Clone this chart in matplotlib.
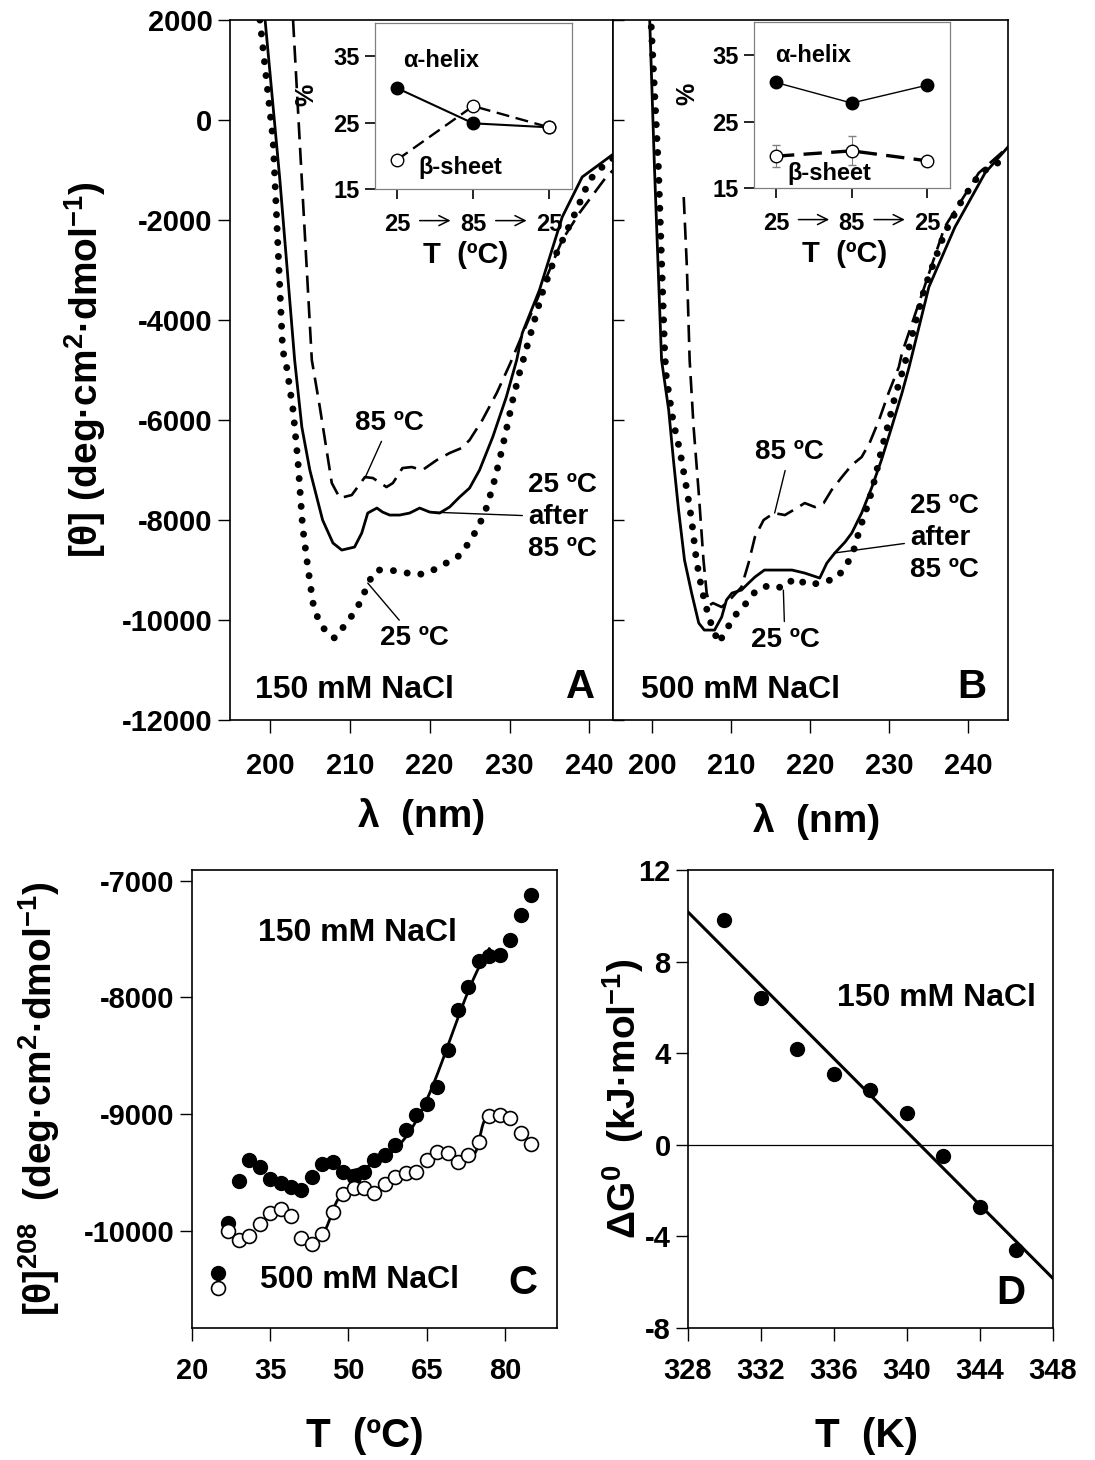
import matplotlib
matplotlib.use("Agg")
import matplotlib.pyplot as plt
import numpy as np

plt.rcParams['font.family'] = ['Liberation Sans', 'DejaVu Sans']
plt.rcParams['font.weight'] = 'bold'
plt.rcParams['axes.labelweight'] = 'bold'
plt.rcParams['axes.unicode_minus'] = False
plt.rcParams['mathtext.fontset'] = 'custom'
plt.rcParams['mathtext.rm'] = 'Liberation Sans:bold'
plt.rcParams['mathtext.bf'] = 'Liberation Sans:bold'
plt.rcParams['mathtext.it'] = 'Liberation Sans:bold'
plt.rcParams['mathtext.default'] = 'rm'

# ---- panel A : 150 mM NaCl CD spectra ----
a25_wl = [198.75, 200.4, 201.6, 202.1, 202.9, 203.5, 204.1, 204.75, 205.4, 206.0, 207.1, 208.1, 209.4,
          210.6, 211.6, 212.25, 213.4, 215.0, 216.6, 218.4, 220.0, 221.6, 223.5, 225.0, 226.0, 226.9,
          227.9, 228.75, 229.6, 230.4, 231.25, 234.1, 235.9, 238.4, 240.0, 242.1, 243.0]
a25_th = [2000, -400, -4600, -4940, -5800, -6800, -8140, -8940, -9660, -9960, -10260, -10360, -10100,
          -9840, -9560, -9260, -9000, -9000, -9040, -9100, -9040, -8900, -8740, -8440, -8160, -7860,
          -7340, -6800, -6200, -5600, -5060, -3460, -2660, -1800, -1200, -860, -760]
a85_wl = [202.9, 204.0, 205.25, 206.25, 207.75, 208.75, 210.25, 211.9, 212.9, 214.6, 215.4, 216.6,
          217.75, 219.1, 220.9, 222.5, 224.0, 225.0, 226.6, 228.4, 230.0, 236.6, 238.75, 242.1, 243.0]
a85_th = [2000, -1200, -4800, -5740, -7260, -7560, -7500, -7140, -7160, -7340, -7260, -6960,
          -6940, -7000, -6800, -6660, -6560, -6400, -6000, -5460, -4900, -2400, -1860, -1140, -1000]
aaft_wl = [199.4, 201.25, 203.1, 204.0, 205.0, 206.6, 207.9, 209.0, 210.6, 211.5, 212.25, 213.4, 214.1,
           215.0, 216.25, 217.5, 218.75, 220.0, 221.25, 222.5, 223.75, 225.0, 226.25, 227.9, 229.6,
           230.9, 231.6, 233.75, 236.6, 239.1, 242.5, 243.0]
aaft_th = [2000, -1200, -4800, -6140, -7000, -8000, -8460, -8600, -8540, -8260, -7860, -7760, -7840,
           -7900, -7900, -7860, -7760, -7840, -7860, -7740, -7540, -7360, -7000, -6340, -5540,
           -4800, -4260, -3400, -1940, -1140, -740, -680]

# ---- panel B : 500 mM NaCl CD spectra ----
b25_wl = [199.9, 200.8, 201.6, 201.8, 202.7, 203.5, 204.4, 205.0, 205.6, 206.3, 207.2, 208.4, 209.4,
          210.3, 211.7, 213.2, 214.9, 216.6, 218.0, 219.8, 221.7, 223.35, 224.6, 225.5, 226.3, 227.4,
          228.2, 229.0, 229.9, 230.7, 231.8, 234.5, 237.0, 239.2, 241.5, 245.0]
b25_th = [1860, -940, -4660, -5140, -6060, -6600, -7400, -8000, -8800, -9400, -9960, -10460, -10200,
          -9940, -9700, -9400, -9300, -9360, -9160, -9300, -9240, -9160, -8900, -8600, -8160, -7640,
          -7160, -6600, -6060, -5540, -4960, -3340, -2260, -1600, -1060, -740]
b85_wl = [204.0, 204.4, 204.75, 205.25, 205.9, 206.5, 206.9, 207.3, 207.7, 208.8, 209.8, 211.3, 212.2,
          213.0, 214.1, 215.4, 216.8, 218.3, 219.3, 220.6, 221.7, 222.7, 224.0, 225.25, 226.5, 227.5,
          228.7, 229.9, 231.2, 231.6, 237.0, 241.3, 245.0]
b85_th = [-1540, -2940, -4800, -6140, -7460, -8800, -9460, -9700, -9660, -9740, -9600, -9340, -8860,
          -8340, -8000, -7860, -7900, -7760, -7660, -7740, -7660, -7400, -7140, -6900, -6740, -6460,
          -6000, -5460, -4940, -4660, -2140, -1060, -540]
baft_wl = [199.7, 200.3, 201.2, 202.1, 202.7, 203.35, 204.1, 205.0, 205.9, 206.6, 207.9, 208.8, 209.4,
           210.1, 211.3, 212.2, 213.0, 214.2, 216.0, 217.7, 219.3, 221.2, 222.1, 223.1, 224.4, 225.25,
           226.5, 227.8, 229.0, 230.3, 231.6, 232.5, 235.0, 238.3, 242.1, 245.0]
baft_th = [2000, -940, -4800, -5800, -6800, -7800, -8800, -9460, -10060, -10200, -10200, -9940, -9600,
           -9460, -9400, -9260, -9140, -9000, -9000, -9000, -9060, -9160, -8860, -8660, -8440, -8260,
           -7860, -7340, -6800, -6140, -5460, -4940, -3340, -2140, -1060, -540]

# ---- insets: secondary structure (%) ----
inset_ticks = ['25', '85', '25']
helix_150 = [30.2, 24.9, 24.3]
sheet_150 = [19.4, 27.5, 24.3]
sheet_150_err = [0, 0, 0.6]
helix_500 = [30.9, 27.8, 30.5]
sheet_500 = [19.8, 20.6, 19.1]
sheet_500_err = [1.7, 2.2, 0]

# ---- panel C : [theta]208 vs temperature ----
T_c = list(range(25, 87, 2))
th208_150 = [-10362, -9932, -9570, -9393, -9450, -9556, -9590, -9621, -9650, -9538, -9427, -9408, -9493,
             -9538, -9496, -9393, -9350, -9265, -9137, -9009, -8915, -8770, -8453, -8111, -7915, -7692,
             -7650, -7641, -7513, -7299, -7128]
th208_500 = [-10490, -9997, -10077, -10043, -9940, -9846, -9812, -9872, -10057, -10111, -10026, -9835,
             -9684, -9632, -9632, -9675, -9598, -9536, -9507, -9493, -9393, -9322, -9336, -9408, -9350,
             -9236, -9017, -9003, -9032, -9165, -9256]
fit_ranges_150 = [(49, 77)]
fit_ranges_500 = [(41, 55), (69, 81)]

# ---- panel D : dG vs T ----
T_d = [330, 332, 334, 336, 338, 340, 342, 344, 346]
dG = [9.8, 6.4, 4.2, 3.1, 2.4, 1.4, -0.5, -2.7, -4.6]


def sigmoid_fit(t, y, n=200):
    t = np.asarray(t, float)
    y = np.asarray(y, float)
    best = None
    for m in np.linspace(t.min(), t.max(), 80):
        for w in np.linspace(0.3, 6, 50):
            s = 1 / (1 + np.exp(-(t - m) / w))
            A = np.column_stack([np.ones_like(t), s])
            coef = np.linalg.lstsq(A, y, rcond=None)[0]
            r = np.sum((A @ coef - y) ** 2)
            if best is None or r < best[0]:
                best = (r, m, w, coef)
    _, m, w, c = best
    tt = np.linspace(t.min(), t.max(), n)
    return tt, c[0] + c[1] / (1 + np.exp(-(tt - m) / w))


TICK = 21
LAB = 28
NOTE = 20
NACL = 23
LETTER = 29

dash = (0, (6.5, 3.2))
dots = (0, (0.01, 2.0))

fig = plt.figure(figsize=(10.95, 14.6), dpi=100)

axA = fig.add_axes([0.2100, 0.5068, 0.3494, 0.4795])
axB = fig.add_axes([0.5594, 0.5068, 0.3611, 0.4795])

for ax, xmax in ((axA, 242.9), (axB, 245)):
    ax.set_xlim(195, xmax)
    ax.set_ylim(-12000, 2000)
    ax.set_xticks([200, 210, 220, 230, 240])
    ax.tick_params(axis='both', labelsize=TICK, length=9, width=1, direction='out')
    ax.tick_params(axis='x', pad=14)
    for s in ax.spines.values():
        s.set_linewidth(1.2)

axA.set_yticks(np.arange(-12000, 2001, 2000))
axB.set_yticks(np.arange(-12000, 2001, 2000))
axB.tick_params(axis='y', direction='in', labelleft=False, length=8)

axA.plot(a25_wl, a25_th, color='black', lw=5, linestyle=dots, dash_capstyle='round')
axA.plot(a85_wl, a85_th, color='black', lw=1.9, linestyle=dash)
axA.plot(aaft_wl, aaft_th, color='black', lw=2.0)

axB.plot(b25_wl, b25_th, color='black', lw=5, linestyle=dots, dash_capstyle='round')
axB.plot(b85_wl, b85_th, color='black', lw=1.9, linestyle=dash)
axB.plot(baft_wl, baft_th, color='black', lw=2.0)

lead = dict(arrowstyle='-', lw=1, color='black', shrinkA=2, shrinkB=0)
axA.annotate('85 ºC', xy=(211.9, -7160), xytext=(215, -6060), fontsize=NOTE,
             ha='center', va='center', arrowprops=lead)
axA.annotate('25 ºC\nafter\n85 ºC', xy=(220, -7840), xytext=(232.3, -7940), fontsize=NOTE,
             ha='left', va='center', linespacing=1.3, arrowprops=lead)
axA.annotate('25 ºC', xy=(212.25, -9260), xytext=(218.1, -10360), fontsize=NOTE,
             ha='center', va='center', arrowprops=lead)
axB.annotate('85 ºC', xy=(215.5, -7860), xytext=(217.4, -6640), fontsize=NOTE,
             ha='center', va='center', arrowprops=lead)
axB.annotate('25 ºC\nafter\n85 ºC', xy=(223, -8660), xytext=(232.6, -8360), fontsize=NOTE,
             ha='left', va='center', linespacing=1.3, arrowprops=lead)
axB.annotate('25 ºC', xy=(216.6, -9400), xytext=(216.8, -10400), fontsize=NOTE,
             ha='center', va='center', arrowprops=lead)

axA.text(0.065, 0.043, '150 mM NaCl', transform=axA.transAxes, fontsize=NACL, va='center')
axA.text(0.955, 0.047, 'A', transform=axA.transAxes, fontsize=LETTER, ha='right', va='center')
axB.text(0.073, 0.043, '500 mM NaCl', transform=axB.transAxes, fontsize=NACL, va='center')
axB.text(0.945, 0.047, 'B', transform=axB.transAxes, fontsize=LETTER, ha='right', va='center')

axA.set_ylabel('[θ] (deg·cm$^2$·dmol$^{-1}$)', fontsize=LAB)
axA.yaxis.set_label_coords(-0.32, 0.5)
axA.set_xlabel('λ  (nm)', fontsize=LAB)
axA.xaxis.set_label_coords(0.5, -0.112)
axB.set_xlabel('λ  (nm)', fontsize=LAB)
axB.xaxis.set_label_coords(0.515, -0.118)

# insets
insets = (
    ([0.3425, 0.8705, 0.1799, 0.1137], helix_150, sheet_150, sheet_150_err, 1.5, 1.7,
     -0.29, (0.142, 0.777), (0.218, 0.127)),
    ([0.6886, 0.8712, 0.1790, 0.1137], helix_500, sheet_500, sheet_500_err, 1.0, 2.4,
     -0.28, (0.107, 0.80), (0.168, 0.09)),
)
for rect, helix, sheet, err, hlw, slw, pct_x, hpos, spos in insets:
    ins = fig.add_axes(rect)
    ins.set_facecolor('white')
    x = np.arange(len(inset_ticks))
    ins.plot(x, helix, color='black', lw=hlw, marker='o', ms=9, mfc='black', mec='black', zorder=3)
    ins.errorbar(x, sheet, yerr=err, color='black', lw=slw, linestyle=(0, (5.5, 2.8)), marker='o', ms=9,
                 mfc='white', mec='black', mew=1, ecolor='gray', elinewidth=0.8, capsize=3, zorder=3)
    ins.set_xlim(-0.29, 2.3)
    ins.set_ylim(15, 40)
    ins.set_yticks([15, 25, 35])
    ins.set_xticks(x)
    ins.set_xticklabels(inset_ticks)
    ins.tick_params(labelsize=17, length=7, width=1.2, color='black', direction='out', pad=4)
    ins.tick_params(axis='x', pad=10)
    for s in ins.spines.values():
        s.set_color('gray')
        s.set_linewidth(0.9)
    tr = ins.get_xaxis_transform()
    for x0 in (0, 1):
        ins.annotate('', xy=(x0 + 0.74, -0.19), xytext=(x0 + 0.26, -0.19), xycoords=tr,
                     arrowprops=dict(arrowstyle='->', lw=1.1, color='black', mutation_scale=18),
                     annotation_clip=False)
    ins.set_ylabel('%', fontsize=18)
    ins.yaxis.set_label_coords(pct_x, 0.57)
    ins.set_xlabel('T  (ºC)', fontsize=21)
    ins.xaxis.set_label_coords(0.46, -0.31)
    ins.text(hpos[0], hpos[1], 'α-helix', transform=ins.transAxes, fontsize=17, va='center')
    ins.text(spos[0], spos[1], 'β-sheet', transform=ins.transAxes, fontsize=17, va='center')

# panel C
axC = fig.add_axes([0.1753, 0.0904, 0.3334, 0.3137])
axC.set_xlim(20, 90)
axC.set_ylim(-10830, -6910)
axC.set_xticks([20, 35, 50, 65, 80])
axC.set_yticks([-10000, -9000, -8000, -7000])
axC.tick_params(labelsize=TICK, length=9, width=1, direction='out')
axC.tick_params(axis='x', pad=12)
Tc = np.array(T_c)
y150 = np.array(th208_150)
y500 = np.array(th208_500)
for lo, hi in fit_ranges_150:
    sel = (Tc >= lo) & (Tc <= hi)
    tt, yy = sigmoid_fit(Tc[sel], y150[sel])
    axC.plot(tt, yy, color='black', lw=2)
for lo, hi in fit_ranges_500:
    sel = (Tc >= lo) & (Tc <= hi)
    tt, yy = sigmoid_fit(Tc[sel], y500[sel])
    axC.plot(tt, yy, color='black', lw=2)
axC.plot(T_c, th208_150, 'o', ms=10, mfc='black', mec='black')
axC.plot(T_c, th208_500, 'o', ms=10, mfc='white', mec='black', mew=1.2)
axC.text(0.18, 0.862, '150 mM NaCl', transform=axC.transAxes, fontsize=NACL, va='center')
axC.text(0.186, 0.105, '500 mM NaCl', transform=axC.transAxes, fontsize=NACL, va='center')
axC.text(0.945, 0.098, 'C', transform=axC.transAxes, fontsize=LETTER, ha='right', va='center')
axC.set_ylabel('[θ]$^{208}$  (deg·cm$^2$·dmol$^{-1}$)', fontsize=LAB)
axC.yaxis.set_label_coords(-0.355, 0.5)
axC.set_xlabel('T  (ºC)', fontsize=LAB + 1)
axC.xaxis.set_label_coords(0.474, -0.195)

# panel D
axD = fig.add_axes([0.6283, 0.0904, 0.3333, 0.3137])
axD.set_xlim(328, 348)
axD.set_ylim(-8, 12)
axD.set_xticks(np.arange(328, 349, 4))
axD.set_yticks(np.arange(-8, 13, 4))
axD.tick_params(labelsize=TICK, length=9, width=1, direction='out')
axD.tick_params(axis='x', pad=12)
axD.axhline(0, color='black', lw=0.9)
k, b = np.polyfit(T_d, dG, 1)
tl = np.array([328, 348])
axD.plot(tl, k * tl + b, color='black', lw=2.2)
axD.plot(T_d, dG, 'o', ms=10, color='black')
axD.text(0.408, 0.72, '150 mM NaCl', transform=axD.transAxes, fontsize=NACL, va='center')
axD.text(0.925, 0.076, 'D', transform=axD.transAxes, fontsize=LETTER, ha='right', va='center')
axD.set_ylabel('ΔG$^0$  (kJ·mol$^{-1}$)', fontsize=LAB)
axD.yaxis.set_label_coords(-0.115, 0.5)
axD.set_xlabel('T  (K)', fontsize=LAB + 1)
axD.xaxis.set_label_coords(0.488, -0.195)

for ax in (axC, axD):
    for s in ax.spines.values():
        s.set_linewidth(1.2)

fig.savefig('out.png', dpi=100)
